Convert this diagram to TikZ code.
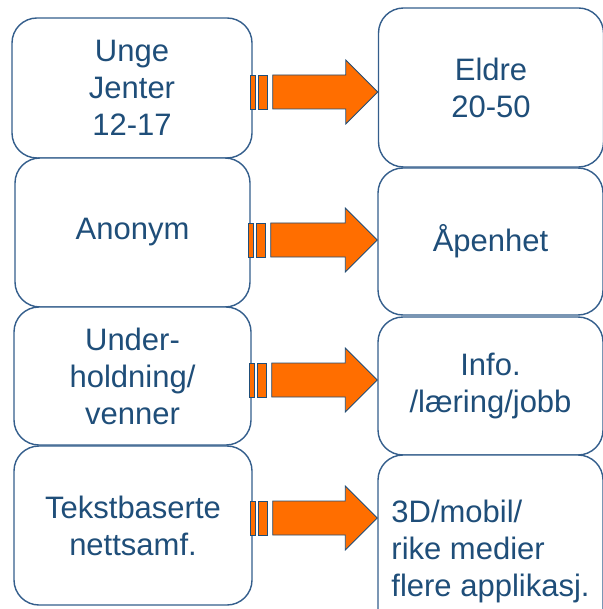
\documentclass[tikz,border=0pt]{standalone}
\usepackage{fontspec}
\setmainfont{Liberation Sans}
\usetikzlibrary{calc}
\definecolor{boxblue}{RGB}{52,94,140}
\definecolor{textblue}{RGB}{31,78,121}
\definecolor{arroworange}{RGB}{255,110,0}

\begin{document}
\begin{tikzpicture}[x=1pt, y=-1pt,
        box/.style={draw=boxblue, line width=1.4pt, rounded corners=25pt, fill=white, align=center, text=textblue, inner sep=0pt, font=\fontsize{31}{37}\selectfont},
        bar/.style={draw=textblue, fill=arroworange, line width=0.8pt},
        body/.style={draw=textblue, fill=arroworange, line width=0.8pt, line join=miter}]
        \useasboundingbox (0,0) rectangle (602,609);

        \node[box, minimum width=240pt, minimum height=140pt] (l1) at (132,88) {Unge\\Jenter\\12-17};
        \node[box, minimum width=235pt, minimum height=149pt] (l2) at (132.5,232.5) {Anonym};
        \node[box, minimum width=237pt, minimum height=138pt] (l3) at (132.5,376) {Under-\\holdning/\\venner};
        \node[box, minimum width=238pt, minimum height=159pt] (l4) at (133,525.5) {Tekstbaserte\\nettsamf.};

        \node[box, minimum width=225pt, minimum height=159pt] (r1) at (491,87.5) {Eldre\\20-50};
        \node[box, minimum width=225pt, minimum height=147pt] (r2) at (490.5,241.5) {Åpenhet};
        \node[box, minimum width=225pt, minimum height=138pt] (r3) at (490.5,386) {Info.\\/læring/jobb};
        \node[box, minimum width=225pt, minimum height=192pt, align=left] (r4) at (490.5,551) {3D/mobil/\\rike medier\\flere applikasj.};

        \coordinate (row1) at (0,92);
        \coordinate (row2) at (0,240);
        \coordinate (row3) at (0,380);
        \coordinate (row4) at (0,518);

        \draw[bar] ($(l1.east |- row1)+(-2,-17)$) rectangle ++(5,34);
        \draw[bar] ($(l1.east |- row1)+(6,-17)$) rectangle ++(9,34);
        \draw[body] ($(l1.east |- row1)+(20,-17)$) -- ($(r1.west |- row1)+(-32,-17)$) -- ++(0,-15) -- (r1.west |- row1) -- ++(-32,32) -- ++(0,-15) -- ($(l1.east |- row1)+(20,17)$) -- cycle;

        \draw[bar] ($(l2.east |- row2)+(-2,-17)$) rectangle ++(5,34);
        \draw[bar] ($(l2.east |- row2)+(6,-17)$) rectangle ++(9,34);
        \draw[body] ($(l2.east |- row2)+(20,-17)$) -- ($(r2.west |- row2)+(-32,-17)$) -- ++(0,-15) -- (r2.west |- row2) -- ++(-32,32) -- ++(0,-15) -- ($(l2.east |- row2)+(20,17)$) -- cycle;

        \draw[bar] ($(l3.east |- row3)+(-2,-17)$) rectangle ++(5,34);
        \draw[bar] ($(l3.east |- row3)+(6,-17)$) rectangle ++(9,34);
        \draw[body] ($(l3.east |- row3)+(20,-17)$) -- ($(r3.west |- row3)+(-32,-17)$) -- ++(0,-15) -- (r3.west |- row3) -- ++(-32,32) -- ++(0,-15) -- ($(l3.east |- row3)+(20,17)$) -- cycle;

        \draw[bar] ($(l4.east |- row4)+(-2,-17)$) rectangle ++(5,34);
        \draw[bar] ($(l4.east |- row4)+(6,-17)$) rectangle ++(9,34);
        \draw[body] ($(l4.east |- row4)+(20,-17)$) -- ($(r4.west |- row4)+(-32,-17)$) -- ++(0,-15) -- (r4.west |- row4) -- ++(-32,32) -- ++(0,-15) -- ($(l4.east |- row4)+(20,17)$) -- cycle;
    \end{tikzpicture}
\end{document}
